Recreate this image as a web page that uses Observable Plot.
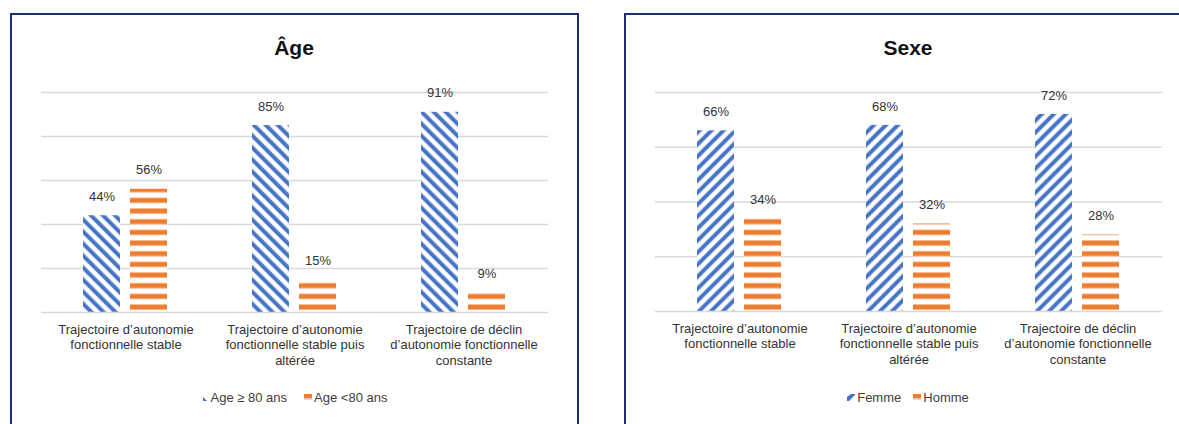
<!DOCTYPE html>
<html>
<head>
<meta charset="utf-8">
<script src="https://cdn.jsdelivr.net/npm/d3@7"></script>
<script src="https://cdn.jsdelivr.net/npm/@observablehq/plot@0.6"></script>
<style>
  html, body { margin: 0; padding: 0; background: #fff; overflow: hidden; }
  body { width: 1179px; height: 424px; position: relative; font-family: "Liberation Sans", Arial, Helvetica, sans-serif; }
  .panel { position: absolute; box-sizing: border-box; border: 2px solid #172f72; background: #fff; }
  .title { position: absolute; font-weight: bold; font-size: 21px; line-height: 21px; color: #111; text-align: center; width: 400px; }
  .legend { position: absolute; display: flex; justify-content: center; align-items: center; font-size: 13px; line-height: 13px; color: #404040; width: 400px; }
  .legend .item { display: flex; align-items: center; }
  .legend svg { margin-right: 2px; }
  .chart { position: absolute; }
</style>
</head>
<body>
<div class="panel" style="left:10px; top:13px; width:569px; height:440px;"></div>
<div class="panel" style="left:624px; top:13px; width:600px; height:440px;"></div>
<div id="root"></div>
<script>
// ---- data ----
const categories = [
  "Trajectoire d’autonomie\nfonctionnelle stable",
  "Trajectoire d’autonomie\nfonctionnelle stable puis\naltérée",
  "Trajectoire de déclin\nd’autonomie fonctionnelle\nconstante"
];
const ageSeries = ["Age ≥ 80 ans", "Age <80 ans"];
const age80plus = [44, 85, 91];
const ageUnder80 = [56, 15, 9];
const ageTicks = [0, 20, 40, 60, 80, 100];

const sexSeries = ["Femme", "Homme"];
const femme = [66, 68, 72];
const homme = [34, 32, 28];
const sexTicks = [0, 20, 40, 60, 80];

const BLUE = "#4472c4";
const ORANGE = "#ed7d31";
const FONT = '"Liberation Sans", Arial, Helvetica, sans-serif';

function rows(series, a, b) {
  const out = [];
  categories.forEach((c, i) => {
    out.push({cat: c, series: series[0], value: a[i]});
    out.push({cat: c, series: series[1], value: b[i]});
  });
  return out;
}

function addDefs(svg, prefix, angle) {
  const P = 8.5;
  const defs = d3.select(svg).insert("defs", ":first-child");
  const pb = defs.append("pattern").attr("id", prefix + "Blue")
    .attr("patternUnits", "userSpaceOnUse").attr("width", P).attr("height", P)
    .attr("patternTransform", `rotate(${angle})`);
  pb.append("rect").attr("width", P).attr("height", P).attr("fill", "#fff");
  pb.append("rect").attr("x", 0.3).attr("width", 4.6).attr("height", P).attr("fill", "#a9bfe6");
  pb.append("rect").attr("x", 0.9).attr("width", 3.4).attr("height", P).attr("fill", BLUE);
  const po = defs.append("pattern").attr("id", prefix + "Orange")
    .attr("patternUnits", "userSpaceOnUse").attr("width", 10).attr("height", 10.67);
  po.append("rect").attr("width", 10).attr("height", 10.67).attr("fill", "#fff");
  po.append("rect").attr("y", 0).attr("width", 10).attr("height", 6).attr("fill", "#f8cbad");
  po.append("rect").attr("y", 0.8).attr("width", 10).attr("height", 4.4).attr("fill", ORANGE);
}

function makeChart({left, title, series, a, b, ticks, prefix, angle, gap, swatchBlue}) {
  const data = rows(series, a, b);
  const yMax = ticks[ticks.length - 1];
  const plotHeight = yMax === 100 ? 220 : 219;
  const chart = Plot.plot({
    width: 560,
    height: 12 + plotHeight + 60,
    marginTop: 12,
    marginBottom: 60,
    marginLeft: 29,
    marginRight: 23,
    fx: {domain: categories, padding: 0, axis: null, label: null},
    x: {domain: series, paddingInner: 0.208, paddingOuter: 0.87, axis: null},
    y: {domain: [0, yMax], axis: null},
    color: {domain: series, range: [`url(#${prefix}Blue)`, `url(#${prefix}Orange)`]},
    style: {fontFamily: FONT, fontSize: "13px", color: "#404040", background: "transparent", overflow: "visible"},
    marks: [
      Plot.ruleY(ticks.filter(t => t > 0), {stroke: "#d9d9d9", strokeWidth: 1.6}),
      Plot.barY(data, {fx: "cat", x: "series", y: "value", fill: "series"}),
      Plot.ruleY([0], {stroke: "#d9d9d9", strokeWidth: 1.6}),
      Plot.text(data, {fx: "cat", x: "series", y: "value", text: d => d.value + "%", dy: -19, fill: "#333", fontSize: 13}),
      Plot.text(categories, {fx: d => d, text: d => d, frameAnchor: "bottom", lineAnchor: "top", dy: 10, lineHeight: 1.2, fontSize: 13, fill: "#333"})
    ]
  });
  addDefs(chart, prefix, angle);
  chart.classList.add("chart");
  chart.style.left = left + "px";
  chart.style.top = "80px";
  document.getElementById("root").appendChild(chart);

  const center = left + 29 + (560 - 29 - 23) / 2;
  const t = document.createElement("div");
  t.className = "title";
  t.textContent = title;
  t.style.left = (center - 200) + "px";
  t.style.top = "37px";
  document.getElementById("root").appendChild(t);

  const lg = document.createElement("div");
  lg.className = "legend";
  lg.style.left = (center - 200) + "px";
  lg.style.top = "391px";
  lg.style.gap = gap + "px";
  series.forEach((s, i) => {
    const item = document.createElement("div");
    item.className = "item";
    const sw = i === 0 ? swatchBlue :
      `<svg width="8" height="7" viewBox="0 0 8 7"><rect width="8" height="7" fill="#fff"/><rect y="0" width="8" height="4.6" fill="${ORANGE}"/><rect y="4.6" width="8" height="1.2" fill="#f8cbad"/></svg>`;
    item.innerHTML = sw + `<span>${s.replace(/</g, "&lt;")}</span>`;
    lg.appendChild(item);
  });
  document.getElementById("root").appendChild(lg);
}

makeChart({
  left: 11, title: "Âge", series: ageSeries, a: age80plus, b: ageUnder80, ticks: ageTicks,
  prefix: "age", angle: -45, gap: 17,
  swatchBlue: `<svg width="8" height="7" viewBox="0 0 8 7"><polygon points="2,3 2,7 6,7" fill="${BLUE}"/></svg>`
});
makeChart({
  left: 625, title: "Sexe", series: sexSeries, a: femme, b: homme, ticks: sexTicks,
  prefix: "sex", angle: 45, gap: 12,
  swatchBlue: `<svg width="8" height="7" viewBox="0 0 8 7"><polygon points="0,7 0,3 4,0 8,0 8,1 2,7" fill="${BLUE}"/></svg>`
});
</script>
</body>
</html>
